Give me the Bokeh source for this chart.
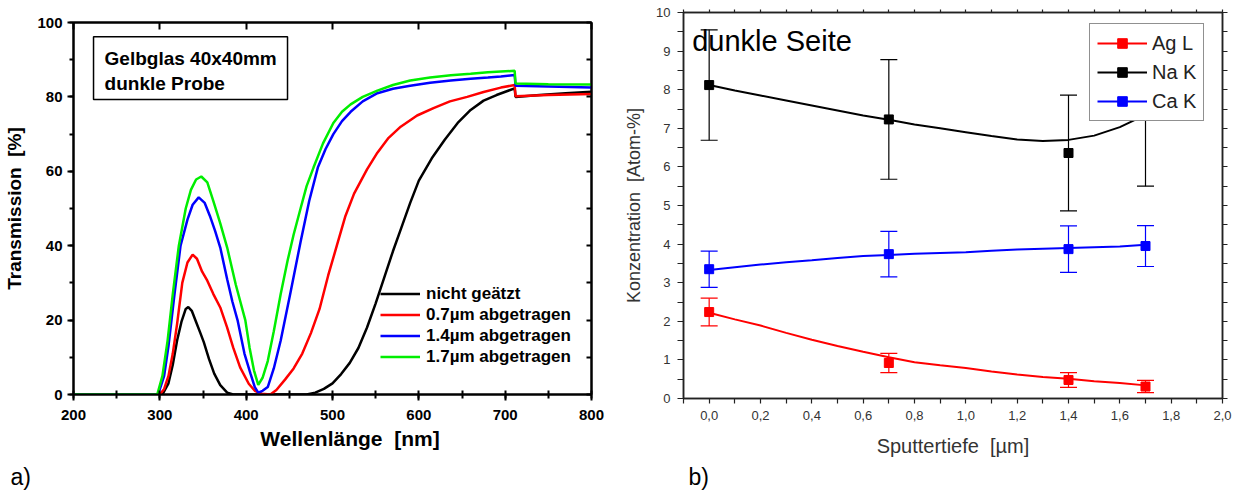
from bokeh.plotting import figure
from bokeh.layouts import row
from bokeh.models import (Range1d, LinearAxis, SingleIntervalTicker, FixedTicker,
                          CustomJSTickFormatter, Legend, LegendItem, Label, Title,
                          BoxAnnotation, Whisker, TeeHead, ColumnDataSource)
from bokeh.embed import file_html
from bokeh.resources import INLINE

# ---------------- a) transmission spectra ----------------
wl_ref = [200, 303, 310, 315, 320, 325, 330, 333, 337, 342, 347, 351, 357, 363, 370, 378, 385,
          470, 480, 490, 500, 510, 520, 530, 540, 550, 560, 570, 580, 590, 600, 615, 630, 645,
          660, 675, 690, 705, 711, 712, 740, 770, 800]
t_ref = [0, 0, 3, 8, 14.5, 19.5, 23, 23.5, 22.5, 19.5, 16.5, 14, 9.5, 5.6, 2.5, 0.5, 0,
         0, 0.5, 1.5, 3, 5.5, 8.5, 12.5, 18, 24.5, 31.5, 38.5, 45, 51.5, 57.5, 63.5, 68.5, 73,
         76.5, 79, 80.5, 81.8, 82.3, 80, 80.5, 81, 81.4]

wl_07 = [200, 300, 305, 310, 315, 320, 326, 332, 338, 343, 349, 355, 362, 370, 378, 385, 393,
         403, 410, 418, 428, 435, 445, 455, 465, 475, 485, 495, 505, 515, 525, 540, 552, 565,
         579, 598, 617, 636, 656, 675, 695, 711, 712, 750, 800]
t_07 = [0, 0, 1.5, 5, 11, 19, 30, 35.5, 37.6, 36.5, 33, 30.6, 27, 23.4, 18, 12.6, 7.3,
        2.9, 1, 0.2, 0, 1.2, 4, 7, 11, 16.5, 23, 32, 40, 48, 54, 60.5, 65, 69,
        72, 75, 77, 78.8, 80, 81.3, 82.5, 83.2, 80.2, 80.5, 80.8]

wl_14 = [200, 298, 305, 310, 317, 324, 332, 338, 345, 352, 358, 364, 370, 378, 384, 390, 398,
         405, 410, 414, 419, 425, 432, 440, 451, 463, 473, 483, 492, 501, 511, 521, 535, 552,
         570, 590, 613, 637, 660, 680, 695, 711, 712, 750, 800]
t_14 = [0, 0, 5, 13, 27, 40, 47, 51, 53, 51.5, 48, 44, 39.5, 31, 25, 20, 11,
        5.6, 2, 0.5, 1, 2, 7, 14.5, 27, 41, 52, 61, 66, 70, 73.5, 76, 78.8, 81,
        82.2, 83, 83.8, 84.4, 84.9, 85.2, 85.5, 85.9, 83, 82.8, 82.5]

wl_17 = [200, 297, 303, 309, 315, 322, 330, 336, 342, 348, 355, 362, 370, 378, 388, 399, 404,
         409, 414, 419, 425, 432, 440, 448, 455, 463, 470, 478, 489, 501, 511, 521, 535, 552,
         570, 590, 613, 637, 660, 680, 695, 711, 712, 750, 800]
t_17 = [0, 0, 5, 14.5, 27, 40, 50, 55, 57.8, 58.6, 57, 52, 46, 39.5, 29.5, 20, 12.5,
        6.5, 2.6, 4.5, 9, 17, 27, 36, 43, 50, 56, 61, 67.5, 73, 76, 78, 80, 81.7,
        83.2, 84.4, 85.2, 85.8, 86.2, 86.6, 86.8, 87, 83.6, 83.4, 83.3]

spectra_labels = ["nicht geätzt", "0.7µm abgetragen", "1.4µm abgetragen", "1.7µm abgetragen"]
spectra_colors = ["black", "#ff0000", "#0000ff", "#00ee00"]

# ---------------- b) EDX concentrations ----------------
depth = [0.0, 0.7, 1.4, 1.7]
ag = [2.24, 0.92, 0.48, 0.31]
ag_err = [0.36, 0.25, 0.19, 0.16]
na = [8.12, 7.23, 6.36, 7.5]
na_err = [1.43, 1.55, 1.5, 2.0]
ca = [3.35, 3.74, 3.87, 3.95]
ca_err = [0.47, 0.59, 0.6, 0.53]

fit_x = [0.0, 0.1, 0.2, 0.3, 0.4, 0.5, 0.6, 0.7, 0.8, 0.9, 1.0, 1.1, 1.2, 1.3, 1.4, 1.5, 1.6, 1.7]
ag_fit = [2.22, 2.05, 1.89, 1.70, 1.52, 1.36, 1.21, 1.07, 0.94, 0.86, 0.79, 0.70, 0.62, 0.56,
          0.51, 0.45, 0.40, 0.34]
na_fit = [8.12, 7.98, 7.85, 7.72, 7.59, 7.46, 7.33, 7.22, 7.10, 7.00, 6.90, 6.80, 6.71, 6.67,
          6.70, 6.81, 7.03, 7.35]
ca_fit = [3.33, 3.40, 3.47, 3.53, 3.58, 3.64, 3.69, 3.72, 3.75, 3.77, 3.79, 3.83, 3.86, 3.88,
          3.90, 3.92, 3.94, 3.98]

element_labels = ["Ag L", "Na K", "Ca K"]
element_colors = ["#ff0000", "black", "#0000ff"]

FONT = "Liberation Sans"
NB = "\u00a0"


def blank_axis(**kw):
    """Frame-closing axis: ticks only, no labels."""
    return LinearAxis(formatter=CustomJSTickFormatter(code="return ''"),
                      major_label_text_font_size="1px", major_label_standoff=0,
                      minor_tick_in=0, minor_tick_out=0, **kw)


# ======== left figure ========
p1 = figure(width=615, height=492, x_range=Range1d(200, 800), y_range=Range1d(0, 100),
            output_backend="svg", toolbar_location=None,
            min_border_left=73, min_border_right=24, min_border_top=22, min_border_bottom=98)
p1.frame_align = False
p1.grid.visible = False
p1.outline_line_color = "black"
p1.outline_line_width = 2

xa = p1.xaxis[0]
xa.ticker = SingleIntervalTicker(interval=100, num_minor_ticks=2)
ya = p1.yaxis[0]
ya.ticker = SingleIntervalTicker(interval=20, num_minor_ticks=2)
for ax in (xa, ya):
    ax.axis_line_width = 2
    ax.major_tick_line_width = 2
    ax.minor_tick_line_width = 2
    ax.major_tick_in = 0
    ax.major_tick_out = 6
    ax.minor_tick_in = 0
    ax.minor_tick_out = 4
    ax.major_label_text_font = FONT
    ax.major_label_text_font_style = "bold"
    ax.major_label_text_font_size = "15px"
    ax.major_label_text_color = "black"
    ax.axis_label_text_font = FONT
    ax.axis_label_text_font_style = "bold"
    ax.axis_label_text_color = "black"
xa.axis_label = NB * 6 + "Wellenlänge" + NB * 2 + "[nm]"
xa.axis_label_text_font_size = "21px"
xa.major_label_standoff = 9
xa.axis_label_standoff = 4
ya.axis_label = "Transmission" + NB * 2 + "[%]"
ya.axis_label_text_font_size = "19px"
ya.major_label_standoff = 5
ya.axis_label_standoff = 9

p1.add_layout(blank_axis(ticker=SingleIntervalTicker(interval=100, num_minor_ticks=2),
                         axis_line_width=2, major_tick_line_width=2, minor_tick_line_width=2,
                         major_tick_in=7, major_tick_out=0), "above")
p1.xaxis[1].minor_tick_in = 4
p1.add_layout(blank_axis(ticker=SingleIntervalTicker(interval=10, num_minor_ticks=0),
                         axis_line_width=2, major_tick_line_width=2,
                         major_tick_in=5, major_tick_out=0), "right")

items = []
for wl, t, lab, col in zip([wl_ref, wl_07, wl_14, wl_17], [t_ref, t_07, t_14, t_17],
                           spectra_labels, spectra_colors):
    r = p1.line(wl, t, line_color=col, line_width=2.5)
    items.append(LegendItem(label=lab, renderers=[r]))

leg1 = Legend(items=items, location=(307, 27), background_fill_alpha=0,
              border_line_color=None, padding=0, spacing=0, margin=0,
              glyph_width=40, glyph_height=21, label_height=21, label_standoff=6,
              label_text_font=FONT, label_text_font_style="bold",
              label_text_font_size="17px", label_text_color="black")
p1.add_layout(leg1)

p1.add_layout(BoxAnnotation(left=223.2, right=447.9, top=96.2, bottom=79.3,
                            fill_alpha=0, line_color="black", line_alpha=1, line_width=1.5))
for txt, yy in (("Gelbglas 40x40mm", 90.3), ("dunkle Probe", 83.6)):
    p1.add_layout(Label(x=236, y=yy, text=txt, text_font=FONT, text_font_style="bold",
                        text_font_size="19px", text_color="black",
                        text_baseline="middle"))
# small spacer row between the axis title and the panel letter
p1.add_layout(Title(text=NB, text_font_size="7px", standoff=0), "below")
p1.add_layout(Title(text="a)", align="left", offset=-63, standoff=0, text_font=FONT,
                    text_font_size="23px", text_font_style="normal", text_color="black"),
              "below")

# ======== right figure ========
p2 = figure(width=620, height=492, x_range=Range1d(-0.1, 2.0), y_range=Range1d(0, 10),
            output_backend="svg", toolbar_location=None,
            min_border_left=68, min_border_right=13, min_border_top=12, min_border_bottom=94)
p2.frame_align = False
p2.grid.visible = False
p2.outline_line_color = "#222222"
p2.outline_line_width = 1.5

xb = p2.xaxis[0]
xb.ticker = FixedTicker(ticks=[i / 10 for i in range(0, 21, 2)],
                        minor_ticks=[i / 10 for i in range(-1, 20, 2)])
xb.formatter = CustomJSTickFormatter(code="return tick.toFixed(1).replace('.', ',')")
yb = p2.yaxis[0]
yb.ticker = FixedTicker(ticks=list(range(0, 11)), minor_ticks=[i + 0.5 for i in range(10)])
for ax in (xb, yb):
    ax.axis_line_width = 1.5
    ax.axis_line_color = "#222222"
    ax.major_tick_line_color = "#222222"
    ax.minor_tick_line_color = "#222222"
    ax.major_tick_line_width = 1.2
    ax.minor_tick_line_width = 1.2
    ax.major_tick_in = 0
    ax.minor_tick_in = 0
    ax.major_label_text_font = FONT
    ax.major_label_text_font_size = "13px"
    ax.major_label_text_color = "#333333"
    ax.axis_label_text_font = FONT
    ax.axis_label_text_font_style = "normal"
    ax.axis_label_text_color = "#333333"
xb.major_tick_out = 5
xb.minor_tick_out = 5
xb.major_label_standoff = 7
xb.axis_label = "Sputtertiefe" + NB * 2 + "[µm]"
xb.axis_label_text_font_size = "20px"
xb.axis_label_standoff = 12
yb.major_tick_out = 6
yb.minor_tick_out = 6
yb.major_label_standoff = 7
yb.axis_label = "Konzentration" + NB * 2 + "[Atom-%]"
yb.axis_label_text_font_size = "18px"
yb.axis_label_standoff = 9

p2.add_layout(blank_axis(ticker=FixedTicker(ticks=[i / 10 for i in range(-1, 21)]),
                         axis_line_width=1.5, axis_line_color="#222222",
                         major_tick_line_color="#222222", major_tick_line_width=1.2,
                         major_tick_in=0, major_tick_out=3), "above")
p2.add_layout(blank_axis(ticker=FixedTicker(ticks=[i / 2 for i in range(0, 21)]),
                         axis_line_width=1.5, axis_line_color="#222222",
                         major_tick_line_color="#222222", major_tick_line_width=1.2,
                         major_tick_in=0, major_tick_out=5), "right")

items2 = []
for vals, errs, fit, lab, col in zip([ag, na, ca], [ag_err, na_err, ca_err],
                                     [ag_fit, na_fit, ca_fit], element_labels, element_colors):
    src = ColumnDataSource(dict(x=depth, y=vals,
                                upper=[v + e for v, e in zip(vals, errs)],
                                lower=[v - e for v, e in zip(vals, errs)]))
    p2.add_layout(Whisker(source=src, base="x", upper="upper", lower="lower",
                          line_color=col, line_width=1.2,
                          upper_head=TeeHead(size=17, line_color=col, line_width=1.2),
                          lower_head=TeeHead(size=17, line_color=col, line_width=1.2)))
    lr = p2.line(fit_x, fit, line_color=col, line_width=2)
    sr = p2.scatter("x", "y", source=src, marker="square", size=9,
                    fill_color=col, line_color=col)
    items2.append(LegendItem(label=lab, renderers=[lr, sr]))

leg2 = Legend(items=items2, location=(406, 277), background_fill_color="white",
              background_fill_alpha=1, border_line_color="#222222", border_line_width=1.2,
              padding=7, spacing=5, margin=0, glyph_width=50, glyph_height=24,
              label_height=24, label_standoff=5, label_text_font=FONT,
              label_text_font_size="20px", label_text_color="#222222")
p2.add_layout(leg2)

p2.add_layout(Label(x=-0.066, y=9.25, text="dunkle Seite", text_font=FONT,
                    text_font_size="29px", text_color="black", text_baseline="middle"))
p2.add_layout(Title(text="b)", align="left", offset=5, standoff=5, text_font=FONT,
                    text_font_size="23px", text_font_style="normal", text_color="black"),
              "below")

layout = row(p1, p2)
open("out.html", "w").write(file_html(layout, INLINE))
